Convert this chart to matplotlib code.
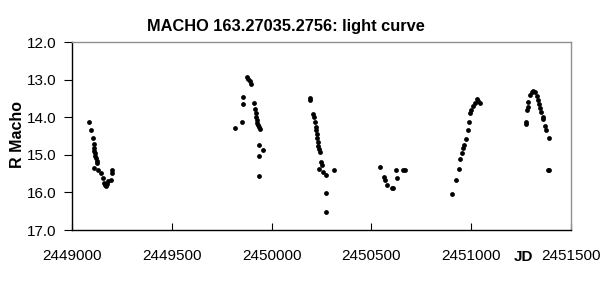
import matplotlib
matplotlib.use("Agg")
import matplotlib.pyplot as plt

plt.rcParams['font.family'] = ['Liberation Sans', 'DejaVu Sans']

# Julian dates (JD) and R magnitudes
jd = [
    # season 1
    2449087, 2449095, 2449104, 2449108, 2449110, 2449112, 2449114, 2449117, 2449119,
    2449123, 2449127, 2449110, 2449132, 2449144, 2449154, 2449162, 2449166, 2449170,
    2449176, 2449182, 2449194, 2449199, 2449202,
    # season 2
    2449817, 2449850, 2449855, 2449858, 2449878, 2449883, 2449890, 2449895, 2449912,
    2449917, 2449920, 2449922, 2449925, 2449925, 2449930, 2449937, 2449942, 2449938,
    2449955, 2449935, 2449935,
    # season 3
    2450192, 2450192, 2450206, 2450212, 2450217, 2450221, 2450222, 2450226, 2450229,
    2450234, 2450234, 2450237, 2450241, 2450247, 2450251, 2450237, 2450259, 2450271,
    2450311, 2450273, 2450271,
    # season 4
    2450545, 2450563, 2450568, 2450577, 2450602, 2450610, 2450623, 2450630, 2450657,
    2450670,
    # season 5
    2450905, 2450924, 2450937, 2450945, 2450955, 2450960, 2450965, 2450974, 2450982,
    2450990, 2450994, 2451000, 2451011, 2451019, 2451028, 2451036, 2451044,
    # season 6
    2451273, 2451273, 2451281, 2451283, 2451286, 2451295, 2451303, 2451311, 2451320,
    2451331, 2451336, 2451341, 2451346, 2451352, 2451358, 2451361, 2451370, 2451375,
    2451388, 2451383, 2451390,
]
r_mag = [
    14.14, 14.34, 14.56, 14.70, 14.83, 14.90, 14.96, 15.02, 15.09,
    15.16, 15.23, 15.36, 15.40, 15.49, 15.63, 15.76, 15.80, 15.83,
    15.78, 15.71, 15.67, 15.49, 15.40,
    14.28, 14.12, 13.66, 13.46, 12.94, 12.99, 13.05, 13.13, 13.61,
    13.79, 13.90, 13.99, 14.07, 14.16, 14.21, 14.27, 14.31, 14.74,
    14.87, 15.02, 15.56,
    13.48, 13.54, 13.92, 13.99, 14.12, 14.25, 14.34, 14.45, 14.56,
    14.67, 14.76, 14.85, 14.93, 15.20, 15.27, 15.39, 15.45, 15.54,
    15.40, 16.02, 16.51,
    15.33, 15.58, 15.67, 15.79, 15.87, 15.88, 15.40, 15.63, 15.40,
    15.40,
    16.04, 15.67, 15.37, 15.12, 14.96, 14.83, 14.74, 14.59, 14.34,
    14.12, 13.90, 13.81, 13.70, 13.63, 13.52, 13.56, 13.63,
    14.12, 14.18, 13.81, 13.72, 13.59, 13.41, 13.32, 13.29, 13.32,
    13.44, 13.54, 13.65, 13.76, 13.87, 13.99, 14.06, 14.23, 14.34,
    14.55, 15.40, 15.40,
]
x_ticks = [2449000, 2449500, 2450000, 2450500, 2451000, 2451500]
y_ticks = [12.0, 13.0, 14.0, 15.0, 16.0, 17.0]

fig = plt.figure(figsize=(6.13, 3.06), dpi=100)
ax = fig.add_axes([72 / 613, 76 / 306, 499 / 613, 188 / 306])

ax.scatter(jd, r_mag, s=12, color='black', linewidths=0, zorder=3)

ax.set_xlim(2449000, 2451500)
ax.set_ylim(17.0, 12.0)
ax.set_xticks(x_ticks)
ax.set_xticklabels([str(t) for t in x_ticks])
ax.set_yticks(y_ticks)
ax.set_yticklabels([f"{t:.1f}" for t in y_ticks])

ax.tick_params(axis='x', direction='in', length=5, pad=14, labelsize=11, color='black')
ax.tick_params(axis='y', direction='out', length=6, pad=5, labelsize=11, color='black')

for side in ['left', 'bottom']:
    ax.spines[side].set_color('black')
for side in ['top', 'right']:
    ax.spines[side].set_color('#909090')
for sp in ax.spines.values():
    sp.set_linewidth(1.0)

fig.text(286 / 613, 1 - 27 / 306, "MACHO 163.27035.2756: light curve",
         ha='center', va='center', fontsize=11.8, fontweight='bold')
fig.text(18 / 613, 1 - 135 / 306, "R Macho", rotation=90,
         ha='center', va='center', fontsize=11.5, fontweight='bold')
fig.text(523 / 613, 1 - 257 / 306, "JD",
         ha='center', va='center', fontsize=11, fontweight='bold')

fig.savefig("out.png", dpi=100)
